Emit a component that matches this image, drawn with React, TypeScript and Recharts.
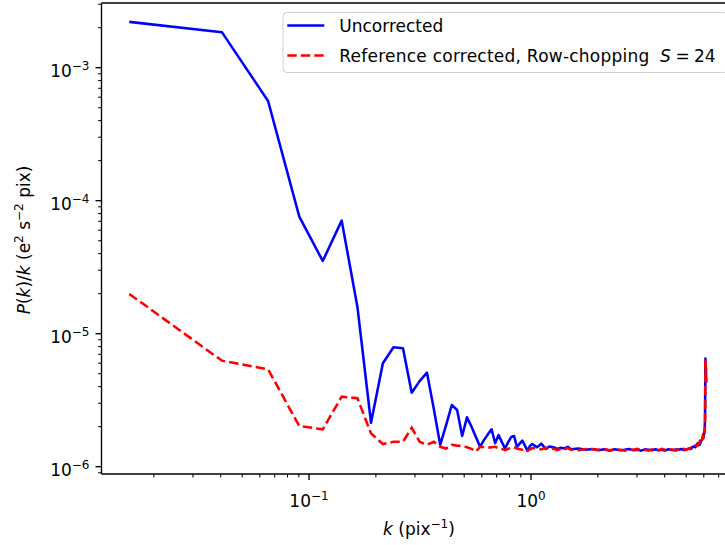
import { LineChart, Line, XAxis, YAxis, ReferenceLine } from "recharts";

// wavenumber k (pix^-1)
const K = [
  0.0155, 0.0405, 0.0654, 0.0904, 0.1153, 0.1403, 0.1652, 0.1902, 0.2151, 0.2401,
  0.265, 0.29, 0.3149, 0.3399, 0.3648, 0.3898, 0.4147, 0.4397, 0.4646, 0.4896,
  0.5145, 0.5395, 0.5644, 0.5894, 0.6143, 0.6393, 0.6642, 0.6892, 0.7141, 0.7391,
  0.764, 0.789, 0.8139, 0.8389, 0.8638, 0.8888, 0.9137, 0.9387, 0.9636, 0.9886,
  1.0135, 1.0634, 1.1133, 1.1632, 1.2131, 1.263, 1.3129, 1.3628, 1.4127, 1.4626,
  1.5125, 1.6373, 1.762, 1.8868, 2.0115, 2.1363, 2.261, 2.3858, 2.5105, 2.6353,
  2.76, 2.8848, 3.0095, 3.1343, 3.259, 3.3838, 3.5085, 3.6333, 3.758, 3.8828,
  4.0075, 4.1323, 4.257, 4.3818, 4.5065, 4.6313, 4.756, 4.8808, 5.0055, 5.1303,
  5.255, 5.3798, 5.5045, 5.6293, 5.754, 5.8538, 5.9287, 5.9786, 6.0285, 6.0534,
  6.0784, 6.1033, 6.1283, 6.1532,
];

const UNCORRECTED = [
  2.21e-3, 1.85e-3, 5.62e-4, 7.59e-5, 3.52e-5, 7.08e-5, 1.59e-5, 2.14e-6, 5.99e-6, 7.9e-6,
  7.77e-6, 3.6e-6, 4.4e-6, 5.09e-6, 2.72e-6, 1.46e-6, 2.06e-6, 2.91e-6, 2.67e-6, 1.7e-6,
  2.35e-6, 2.0e-6, 1.67e-6, 1.41e-6, 1.59e-6, 1.75e-6, 1.91e-6, 1.5e-6, 1.73e-6, 1.53e-6,
  1.37e-6, 1.53e-6, 1.67e-6, 1.7e-6, 1.41e-6, 1.49e-6, 1.57e-6, 1.44e-6, 1.32e-6, 1.43e-6,
  1.48e-6, 1.4e-6, 1.49e-6, 1.36e-6, 1.42e-6, 1.4e-6, 1.36e-6, 1.39e-6, 1.37e-6, 1.41e-6,
  1.35e-6, 1.37e-6, 1.34e-6, 1.36e-6, 1.33e-6, 1.35e-6, 1.32e-6, 1.35e-6, 1.33e-6, 1.34e-6,
  1.36e-6, 1.33e-6, 1.34e-6, 1.32e-6, 1.35e-6, 1.34e-6, 1.33e-6, 1.35e-6, 1.33e-6, 1.34e-6,
  1.32e-6, 1.35e-6, 1.34e-6, 1.33e-6, 1.35e-6, 1.34e-6, 1.36e-6, 1.33e-6, 1.35e-6, 1.37e-6,
  1.36e-6, 1.42e-6, 1.4e-6, 1.5e-6, 1.46e-6, 1.58e-6, 1.62e-6, 1.7e-6, 1.8e-6, 1.85e-6,
  2.3e-6, 6.5e-6, 5.6e-6, 4.3e-6,
];

const CORRECTED = [
  1.99e-5, 6.27e-6, 5.4e-6, 2.02e-6, 1.91e-6, 3.36e-6, 3.27e-6, 1.78e-6, 1.48e-6, 1.54e-6,
  1.54e-6, 1.96e-6, 1.54e-6, 1.46e-6, 1.54e-6, 1.41e-6, 1.37e-6, 1.46e-6, 1.44e-6, 1.43e-6,
  1.4e-6, 1.36e-6, 1.3e-6, 1.41e-6, 1.4e-6, 1.39e-6, 1.4e-6, 1.41e-6, 1.38e-6, 1.36e-6,
  1.33e-6, 1.36e-6, 1.39e-6, 1.4e-6, 1.37e-6, 1.35e-6, 1.34e-6, 1.36e-6, 1.32e-6, 1.35e-6,
  1.38e-6, 1.37e-6, 1.35e-6, 1.39e-6, 1.34e-6, 1.37e-6, 1.33e-6, 1.36e-6, 1.35e-6, 1.38e-6,
  1.34e-6, 1.33e-6, 1.36e-6, 1.35e-6, 1.34e-6, 1.36e-6, 1.33e-6, 1.35e-6, 1.34e-6, 1.32e-6,
  1.35e-6, 1.34e-6, 1.36e-6, 1.33e-6, 1.34e-6, 1.32e-6, 1.35e-6, 1.34e-6, 1.33e-6, 1.36e-6,
  1.34e-6, 1.33e-6, 1.35e-6, 1.34e-6, 1.32e-6, 1.35e-6, 1.34e-6, 1.36e-6, 1.34e-6, 1.36e-6,
  1.39e-6, 1.38e-6, 1.45e-6, 1.44e-6, 1.55e-6, 1.5e-6, 1.68e-6, 1.62e-6, 1.85e-6, 1.78e-6,
  2.1e-6, 6.4e-6, 5.5e-6, 4.3e-6,
];

const X_TICKS = [
  0.02, 0.03, 0.04, 0.05, 0.06, 0.07, 0.08, 0.09, 0.1,
  0.2, 0.3, 0.4, 0.5, 0.6, 0.7, 0.8, 0.9, 1,
  2, 3, 4, 5, 6, 7, 8,
];
const Y_TICKS = [
  9e-7, 1e-6, 2e-6, 3e-6, 4e-6, 5e-6, 6e-6, 7e-6, 8e-6, 9e-6,
  1e-5, 2e-5, 3e-5, 4e-5, 5e-5, 6e-5, 7e-5, 8e-5, 9e-5,
  1e-4, 2e-4, 3e-4, 4e-4, 5e-4, 6e-4, 7e-4, 8e-4, 9e-4,
  1e-3, 2e-3, 3e-3,
];

const X_DOMAIN = [0.01162, 8.38];
const Y_DOMAIN = [8.81e-7, 3.065e-3];

const data = K.map((k, i) => ({ k, unc: UNCORRECTED[i], cor: CORRECTED[i] }));

const FONT = "'DejaVu Sans', sans-serif";
const MINUS = "\u2212";

const expOf = (v: number) => Math.round(Math.log10(v));
const isMajor = (v: number) => Math.abs(Math.log10(v) - expOf(v)) < 1e-6;
const expLabel = (e: number) => (e < 0 ? MINUS + -e : String(e));

function XTick({ x, y, payload }: any) {
  const v = payload.value;
  const major = isMajor(v);
  return (
    <g>
      <line x1={x} x2={x} y1={y} y2={y + (major ? 6 : 3.4)} stroke="#000" strokeWidth={major ? 1.36 : 1.02} />
      {major && (
        <text x={x} y={y + 32.7} textAnchor="middle" fontSize={17} fill="#000" fontFamily={FONT}>
          10<tspan fontSize={12} dy={-7}>{expLabel(expOf(v))}</tspan>
        </text>
      )}
    </g>
  );
}

function YTick({ x, y, payload }: any) {
  const v = payload.value;
  const major = isMajor(v);
  return (
    <g>
      <line x1={x - (major ? 6 : 3.4)} x2={x} y1={y} y2={y} stroke="#000" strokeWidth={major ? 1.36 : 1.02} />
      {major && (
        <text x={x - 12} y={y + 9} textAnchor="end" fontSize={17} fill="#000" fontFamily={FONT}>
          10<tspan fontSize={12} dy={-7}>{expLabel(expOf(v))}</tspan>
        </text>
      )}
    </g>
  );
}

export default function App() {
  return (
    <div
      style={{
        position: "fixed", left: 0, top: 0, width: 725, height: 545,
        overflow: "hidden", background: "#fff", fontFamily: FONT,
      }}
    >
      <LineChart width={750} height={545} data={data} margin={{ top: 3, right: 14, left: 0, bottom: 0 }}>
        <XAxis
          dataKey="k" type="number" scale="log" domain={X_DOMAIN} allowDataOverflow
          ticks={X_TICKS} interval={0} tick={<XTick />} tickLine={false} tickSize={0} tickMargin={0}
          height={71} axisLine={{ stroke: "#000", strokeWidth: 1.36 }}
        />
        <YAxis
          type="number" scale="log" domain={Y_DOMAIN} allowDataOverflow
          ticks={Y_TICKS} interval={0} tick={<YTick />} tickLine={false} tickSize={0} tickMargin={0}
          width={101.5} axisLine={{ stroke: "#000", strokeWidth: 1.36 }}
        />
        <ReferenceLine y={Y_DOMAIN[1]} stroke="#000" strokeWidth={1.36} ifOverflow="visible" />
        <Line
          dataKey="unc" type="linear" stroke="#0000ff" strokeWidth={2.55} dot={false}
          strokeLinejoin="round" isAnimationActive={false}
        />
        <Line
          dataKey="cor" type="linear" stroke="#ff0000" strokeWidth={2.55} dot={false}
          strokeDasharray="9.4 4.1" isAnimationActive={false}
        />
      </LineChart>

      <svg
        width={725} height={545}
        style={{ position: "absolute", left: 0, top: 0, pointerEvents: "none" }}
      >
        {/* axis titles */}
        <text x={418.9} y={535} textAnchor="middle" fontSize={17} fontFamily={FONT} fill="#000">
          <tspan fontStyle="italic">k</tspan> (pix<tspan fontSize={12} dy={-7}>{MINUS}1</tspan>
          <tspan dy={7}>)</tspan>
        </text>
        <text
          x={29.5} y={240} transform="rotate(-90, 29.5, 240)" textAnchor="middle"
          fontSize={17} fontFamily={FONT} fill="#000"
        >
          <tspan fontStyle="italic">P</tspan>(<tspan fontStyle="italic">k</tspan>)/<tspan fontStyle="italic">k</tspan> (e
          <tspan fontSize={12} dy={-7}>2</tspan>
          <tspan dy={7}> s</tspan>
          <tspan fontSize={12} dy={-7}>{MINUS}2</tspan>
          <tspan dy={7}> pix)</tspan>
        </text>

        {/* legend */}
        <rect x={283} y={12.5} width={445} height={60} rx={4} fill="#fff" fillOpacity={0.8} stroke="#d0d0d0" strokeWidth={1} />
        <line x1={287.3} x2={324.3} y1={25.5} y2={25.5} stroke="#0000ff" strokeWidth={2.55} />
        <text x={339.3} y={31.7} fontSize={17} fontFamily={FONT} fill="#000">Uncorrected</text>
        <line x1={287.3} x2={324.3} y1={55.5} y2={55.5} stroke="#ff0000" strokeWidth={2.55} strokeDasharray="9.4 4.1" />
        <text x={339.3} y={61.7} fontSize={17} fontFamily={FONT} fill="#000" textLength={310} lengthAdjust="spacing">
          Reference corrected, Row-chopping
        </text>
        <text x={660} y={61.7} fontSize={17} fontFamily={FONT} fill="#000" fontStyle="italic">S</text>
        <text x={675.5} y={61.7} fontSize={17} fontFamily={FONT} fill="#000">=</text>
        <text x={694} y={61.7} fontSize={17} fontFamily={FONT} fill="#000">24</text>
      </svg>
    </div>
  );
}
